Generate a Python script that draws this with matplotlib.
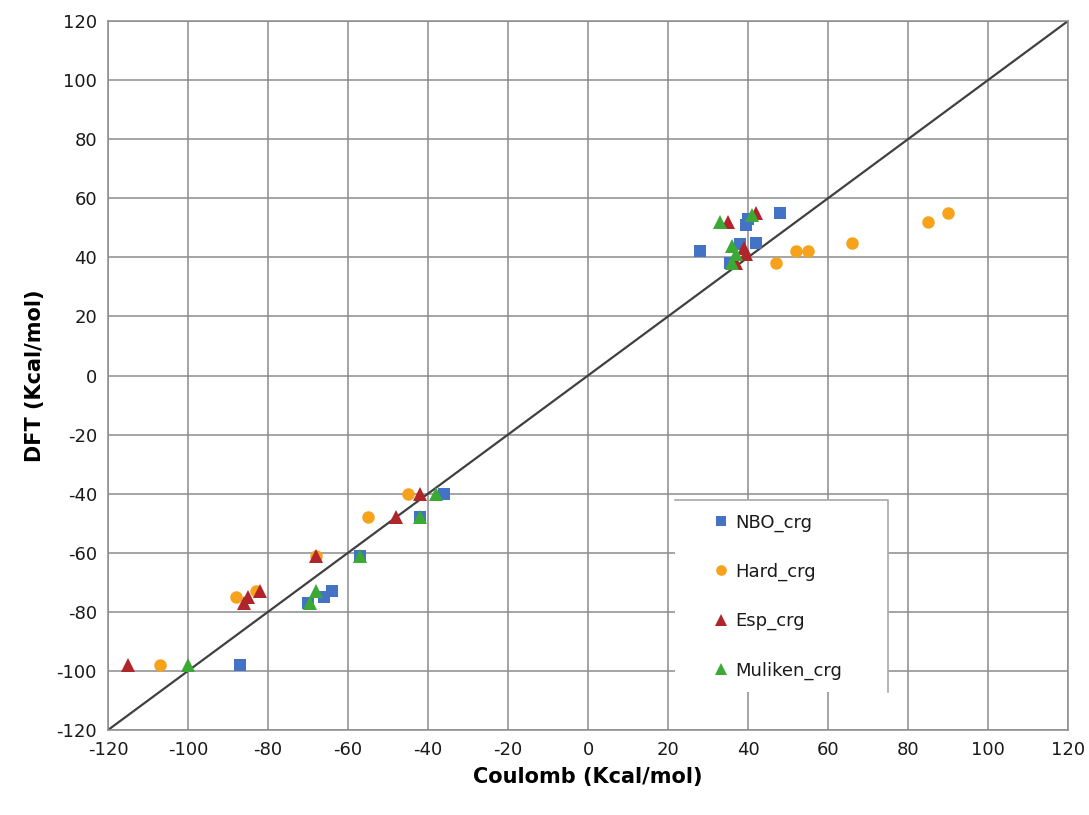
import matplotlib
matplotlib.use("Agg")
import matplotlib.pyplot as plt
from matplotlib.patches import Rectangle
from matplotlib.lines import Line2D

plt.rcParams['font.family'] = ['DejaVu Sans']
plt.rcParams['axes.unicode_minus'] = False

nbo_x = [-87, -70, -66, -64, -57, -42, -36, 28, 35.5, 38, 42, 39.5, 40, 48]
nbo_y = [-98, -77, -75, -73, -61, -48, -40, 42, 38, 44.5, 45, 51, 53, 55]

hard_x = [-107, -88, -83, -68, -55, -45, 47, 52, 55, 66, 85, 90]
hard_y = [-98, -75, -73, -61, -48, -40, 38, 42, 42, 45, 52, 55]

esp_x = [-115, -86, -85, -82, -68, -48, -42, 35, 42, 39, 39.5, 37]
esp_y = [-98, -77, -75, -73, -61, -48, -40, 52, 55, 43, 41, 38]

mul_x = [-100, -69.5, -68, -57, -42, -38, 33, 41, 36, 37, 36]
mul_y = [-98, -77, -73, -61, -48, -40, 52, 54.5, 44, 41, 38]

ticks = list(range(-120, 121, 20))

fig = plt.figure(figsize=(10.89, 8.15), dpi=100)
ax = fig.add_axes([0.0992, 0.1043, 0.8815, 0.8699])

ax.set_xlim(-120, 120)
ax.set_ylim(-120, 120)
ax.set_xticks(ticks)
ax.set_yticks(ticks)
ax.grid(True, color='#8c8c8c', linewidth=1.1)
ax.set_axisbelow(True)
for s in ax.spines.values():
    s.set_color('#8c8c8c')
    s.set_linewidth(1.1)
ax.tick_params(axis='both', colors='#8c8c8c', labelcolor='#1a1a1a',
               labelsize=13, length=0, pad=8)

ax.plot([-120, 120], [-120, 120], color='#404040', linewidth=1.6, zorder=2)

ms = 9
ax.plot(nbo_x, nbo_y, 's', color='#4472C4', markersize=ms, label='NBO_crg', zorder=3, markeredgewidth=0)
ax.plot(hard_x, hard_y, 'o', color='#F7A21B', markersize=ms, label='Hard_crg', zorder=3, markeredgewidth=0)
ax.plot(esp_x, esp_y, '^', color='#B0252A', markersize=ms + 1, label='Esp_crg', zorder=3, markeredgewidth=0)
ax.plot(mul_x, mul_y, '^', color='#3AAA35', markersize=ms + 1, label='Muliken_crg', zorder=3, markeredgewidth=0)

# legend box: white, with top and right edges only
bx, by, bw, bh = 0.5906, 0.0536, 0.2219, 0.2708
ax.add_patch(Rectangle((bx, by), bw, bh, transform=ax.transAxes,
                       facecolor='white', edgecolor='none', zorder=4))
ax.add_line(Line2D([bx, bx + bw, bx + bw], [by + bh, by + bh, by],
                   transform=ax.transAxes, color='#a8a8a8', linewidth=1.2, zorder=4.5))

leg = ax.legend(loc='center left', bbox_to_anchor=(0.631, 0.1883),
                fontsize=13, labelspacing=1.72, handlelength=0.8,
                handletextpad=0.37, borderpad=0, frameon=False,
                markerscale=0.85, borderaxespad=0)
leg.set_zorder(6)
for t in leg.get_texts():
    t.set_color('#1a1a1a')

ax.set_xlabel('Coulomb (Kcal/mol)', fontsize=15, fontweight='bold', labelpad=6)
ax.set_ylabel('DFT (Kcal/mol)', fontsize=15, fontweight='bold', labelpad=8)

fig.savefig('out.png', dpi=100)
